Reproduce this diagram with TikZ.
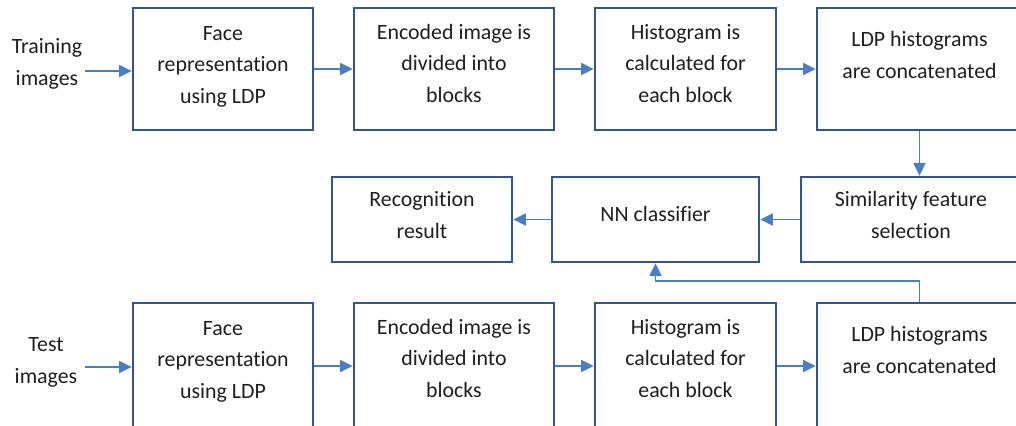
\documentclass[tikz,border=0pt]{standalone}
\usepackage{fontspec}
\setmainfont{Carlito}[Ligatures=NoCommon]
\usetikzlibrary{arrows.meta}
\definecolor{boxblue}{HTML}{2F5597}
\definecolor{arrblue}{HTML}{4A7EC4}
\begin{document}
\begin{tikzpicture}[x=0.75pt,y=-0.75pt,
  box/.style={draw=boxblue,line width=1.9pt,inner sep=0pt},
  lbl/.style={font=\fontsize{16.4pt}{23.5pt}\selectfont,align=center,anchor=base,inner sep=0pt,text=black!88},
  arr/.style={draw=arrblue,line width=1.2pt,-{Triangle[length=9.5pt,width=9pt]}}]
\useasboundingbox (0,0) rectangle (1016,425);
\clip (0,0) rectangle (1016,425);
% top row
\node[box,minimum width=135pt,minimum height=91.5pt] (a1) at (223,69) {};
\node[box,minimum width=150pt,minimum height=91.5pt] (a2) at (454,69) {};
\node[box,minimum width=135.75pt,minimum height=91.5pt] (a3) at (685.5,69) {};
\node[box,minimum width=153.75pt,minimum height=91.5pt] (a4) at (919.5,69) {};
\node[lbl] (ta1) at (223,103) {Face\\representation\\using LDP};
\node[lbl] (ta2) at (454,102) {Encoded image is\\divided into\\blocks};
\node[lbl] (ta3) at (685.5,102) {Histogram is\\calculated for\\each block};
\node[lbl] (ta4) at (919.5,78) {LDP histograms\\are concatenated};
% middle row
\node[box,minimum width=135pt,minimum height=63.75pt] (rec) at (422,219.5) {};
\node[box,minimum width=155.25pt,minimum height=63.75pt] (nn) at (655.5,219.5) {};
\node[box,minimum width=165pt,minimum height=63.75pt] (sim) at (911,219.5) {};
\node[lbl] (trec) at (422,238) {Recognition\\result};
\node[lbl] (tnn) at (655.5,221) {NN classifier};
\node[lbl] (tsim) at (911,238) {Similarity feature\\selection};
% bottom row
\node[box,minimum width=135pt,minimum height=94.5pt] (c1) at (223,366) {};
\node[box,minimum width=150pt,minimum height=94.5pt] (c2) at (454,366) {};
\node[box,minimum width=135.75pt,minimum height=94.5pt] (c3) at (685.5,366) {};
\node[box,minimum width=153.75pt,minimum height=94.5pt] (c4) at (919.5,366) {};
\node[lbl] (tc1) at (223,398) {Face\\representation\\using LDP};
\node[lbl] (tc2) at (454,397) {Encoded image is\\divided into\\blocks};
\node[lbl] (tc3) at (685.5,397) {Histogram is\\calculated for\\each block};
\node[lbl] (tc4) at (919.5,373) {LDP histograms\\are concatenated};
% inputs
\node[lbl] (tin1) at (47,85) {Training\\images};
\node[lbl] (tin2) at (46,383) {Test\\images};
\coordinate (in1) at (85,71);
\coordinate (in2) at (85,367);
% connectors
\draw[arr] (in1) -- (in1 -| a1.west);
\draw[arr] (a1) -- (a2);
\draw[arr] (a2) -- (a3);
\draw[arr] (a3) -- (a4);
\draw[arr] (in2) -- (in2 -| c1.west);
\draw[arr] (c1) -- (c2);
\draw[arr] (c2) -- (c3);
\draw[arr] (c3) -- (c4);
\draw[arr] (a4.south) -- (a4.south |- sim.north);
\draw[arr] (sim) -- (nn);
\draw[arr] (nn) -- (rec);
\draw[arr] (c4.north) -- ++(0,-21) -| (nn.south);
\end{tikzpicture}
\end{document}
